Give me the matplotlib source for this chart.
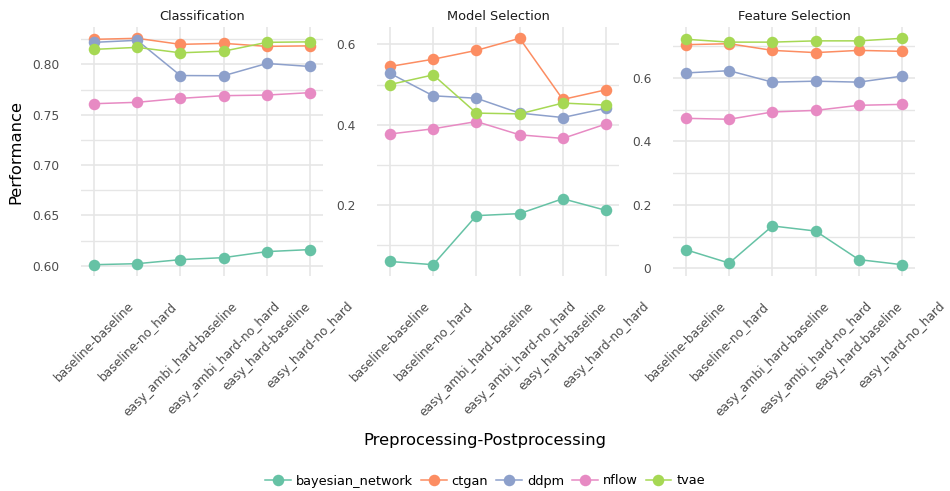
import matplotlib
matplotlib.use("Agg")
import matplotlib.pyplot as plt
from matplotlib.lines import Line2D
from matplotlib.ticker import MultipleLocator, FuncFormatter

# -----------------------------
# data
# -----------------------------
categories = [
    "baseline-baseline",
    "baseline-no_hard",
    "easy_ambi_hard-baseline",
    "easy_ambi_hard-no_hard",
    "easy_hard-baseline",
    "easy_hard-no_hard",
]
models = ["bayesian_network", "ctgan", "ddpm", "nflow", "tvae"]
colors = ["#66c2a5", "#fc8d62", "#8da0cb", "#e78ac3", "#a6d854"]

panels = ["Classification", "Model Selection", "Feature Selection"]

classification = {
    "bayesian_network": [0.601, 0.602, 0.606, 0.608, 0.614, 0.616],
    "ctgan": [0.825, 0.826, 0.820, 0.821, 0.818, 0.8185],
    "ddpm": [0.822, 0.824, 0.789, 0.7888, 0.801, 0.798],
    "nflow": [0.761, 0.7624, 0.7663, 0.769, 0.7696, 0.772],
    "tvae": [0.815, 0.817, 0.8116, 0.8132, 0.822, 0.8225],
}
model_selection = {
    "bayesian_network": [0.060, 0.052, 0.174, 0.179, 0.216, 0.187],
    "ctgan": [0.545, 0.563, 0.585, 0.615, 0.463, 0.487],
    "ddpm": [0.528, 0.472, 0.466, 0.429, 0.418, 0.441],
    "nflow": [0.377, 0.390, 0.408, 0.375, 0.366, 0.402],
    "tvae": [0.500, 0.524, 0.429, 0.427, 0.454, 0.449],
}
feature_selection = {
    "bayesian_network": [0.059, 0.017, 0.134, 0.118, 0.028, 0.012],
    "ctgan": [0.705, 0.708, 0.687, 0.680, 0.687, 0.684],
    "ddpm": [0.616, 0.623, 0.587, 0.590, 0.587, 0.606],
    "nflow": [0.473, 0.470, 0.493, 0.498, 0.514, 0.517],
    "tvae": [0.722, 0.713, 0.713, 0.717, 0.717, 0.725],
}
panel_data = [classification, model_selection, feature_selection]

# -----------------------------
# layout
# -----------------------------
W, H = 950, 491
fig = plt.figure(figsize=(9.5, 4.91), dpi=100)

lefts = [81, 377, 673]
pw = 242
top, bottom = 27, 276
grid_col = "#e6e6e6"
text_col = "#4d4d4d"

major_steps = [0.05, 0.2, 0.2]
fmts = ["{:.2f}", "{:g}", "{:g}"]

x = list(range(len(categories)))
for i, (name, data) in enumerate(zip(panels, panel_data)):
    ax = fig.add_axes([lefts[i] / W, 1 - bottom / H, pw / W, (bottom - top) / H])
    # lines first, points on top (like geom_line + geom_point)
    for m, c in zip(models, colors):
        ax.plot(x, data[m], color=c, lw=1.1, zorder=2)
    for m, c in zip(models, colors):
        ax.plot(x, data[m], "o", color=c, ms=8.3, mec="none", zorder=3)

    ax.set_xlim(-0.3, len(categories) - 0.7)
    ax.margins(y=0.05)
    ax.set_xticks(x)
    ax.set_xticklabels(categories, rotation=45, ha="center")
    ax.yaxis.set_major_locator(MultipleLocator(major_steps[i]))
    ax.yaxis.set_minor_locator(MultipleLocator(major_steps[i] / 2))
    fmt = fmts[i]
    ax.yaxis.set_major_formatter(FuncFormatter(lambda v, p, fmt=fmt: fmt.format(round(v, 4) + 0.0)))

    ax.grid(True, which="major", color=grid_col, lw=1.2, zorder=0)
    ax.grid(True, which="minor", axis="y", color=grid_col, lw=1.0, zorder=0)
    ax.set_axisbelow(True)
    for s in ax.spines.values():
        s.set_visible(False)
    ax.tick_params(axis="both", which="both", length=0, colors=text_col, labelsize=8.8)
    ax.tick_params(axis="y", pad=15.5)
    ax.tick_params(axis="x", pad=17)

    fig.text((lefts[i] + pw / 2) / W, 1 - 16 / H, name, ha="center", va="center",
             fontsize=9.3, color="#1a1a1a")

fig.text(16 / W, 1 - ((top + bottom) / 2) / H, "Performance", rotation=90,
         ha="center", va="center", fontsize=11.8)
fig.text(485 / W, 1 - 440 / H, "Preprocessing-Postprocessing", ha="center",
         va="center", fontsize=11.8)

handles = [Line2D([0], [0], color=c, lw=1.1, marker="o", ms=8.3, mec="none")
           for c in colors]
fig.legend(handles, models, loc="center", bbox_to_anchor=(485 / W, 1 - 481 / H),
           ncol=5, frameon=False, fontsize=9.3, handlelength=2.0,
           handletextpad=0.4, columnspacing=0.6)

fig.savefig("out.png", dpi=100)
